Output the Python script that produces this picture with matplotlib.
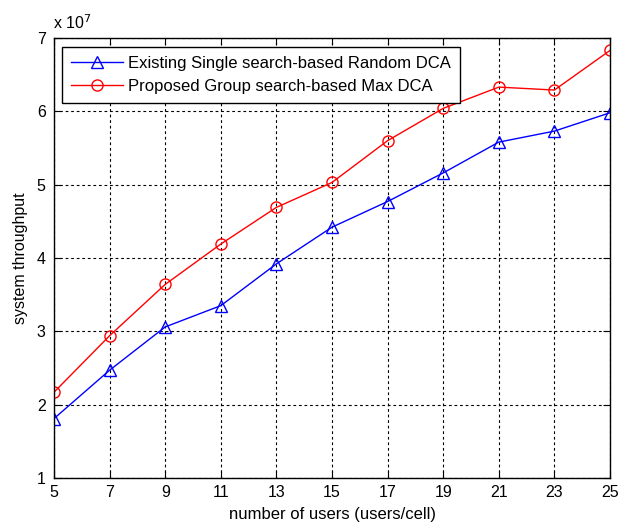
import matplotlib
matplotlib.use("Agg")
import matplotlib.pyplot as plt

users = [5, 7, 9, 11, 13, 15, 17, 19, 21, 23, 25]
existing = [1.81, 2.47, 3.06, 3.35, 3.92, 4.42, 4.77, 5.16, 5.58, 5.73, 5.98]
proposed = [2.17, 2.94, 3.64, 4.19, 4.69, 5.03, 5.60, 6.04, 6.33, 6.29, 6.83]
xticks = [5, 7, 9, 11, 13, 15, 17, 19, 21, 23, 25]
yticks = [1, 2, 3, 4, 5, 6, 7]

plt.rcParams['font.family'] = ['Liberation Sans', 'DejaVu Sans']

fig = plt.figure(figsize=(6.29, 5.26), dpi=100)
ax = fig.add_axes([0.0859, 0.0913, 0.8839, 0.8365])

ax.plot(users, [v * 1e7 for v in existing], color='#0000ff', lw=1, marker='^',
        ms=8, mfc='none', mec='#0000ff', mew=1,
        label='Existing Single search-based Random DCA')
ax.plot(users, [v * 1e7 for v in proposed], color='#ff0000', lw=1, marker='o',
        ms=8, mfc='none', mec='#ff0000', mew=1,
        label='Proposed Group search-based Max DCA')

ax.set_xlim(5, 25)
ax.set_ylim(1e7, 7e7)
ax.set_xticks(xticks)
ax.set_xticklabels([str(t) for t in xticks])
ax.set_yticks([t * 1e7 for t in yticks])
ax.set_yticklabels([str(t) for t in yticks])
ax.grid(True, color='black', linestyle=(0, (2.5, 2.5)), linewidth=0.8)
ax.tick_params(direction='in', top=True, right=True, length=5, labelsize=11.5)
ax.tick_params(axis='x', pad=5)
ax.tick_params(axis='y', pad=6)
for s in ax.spines.values():
    s.set_linewidth(1.0)

ax.text(-0.002, 1.014, r'x 10$^7$', transform=ax.transAxes, fontsize=11.5,
        ha='left', va='bottom')

ax.set_xlabel('number of users (users/cell)', fontsize=12, labelpad=5)
ax.set_ylabel('system throughput', fontsize=11.5, labelpad=6)

leg = ax.legend(loc='upper left', bbox_to_anchor=(0.0144, 0.98), borderaxespad=0,
                fontsize=12, fancybox=False, framealpha=1, edgecolor='black',
                handlelength=3.1, handletextpad=0.3, borderpad=0.55,
                labelspacing=0.5)
leg.get_frame().set_linewidth(1.0)

fig.savefig('out.png', dpi=100)
